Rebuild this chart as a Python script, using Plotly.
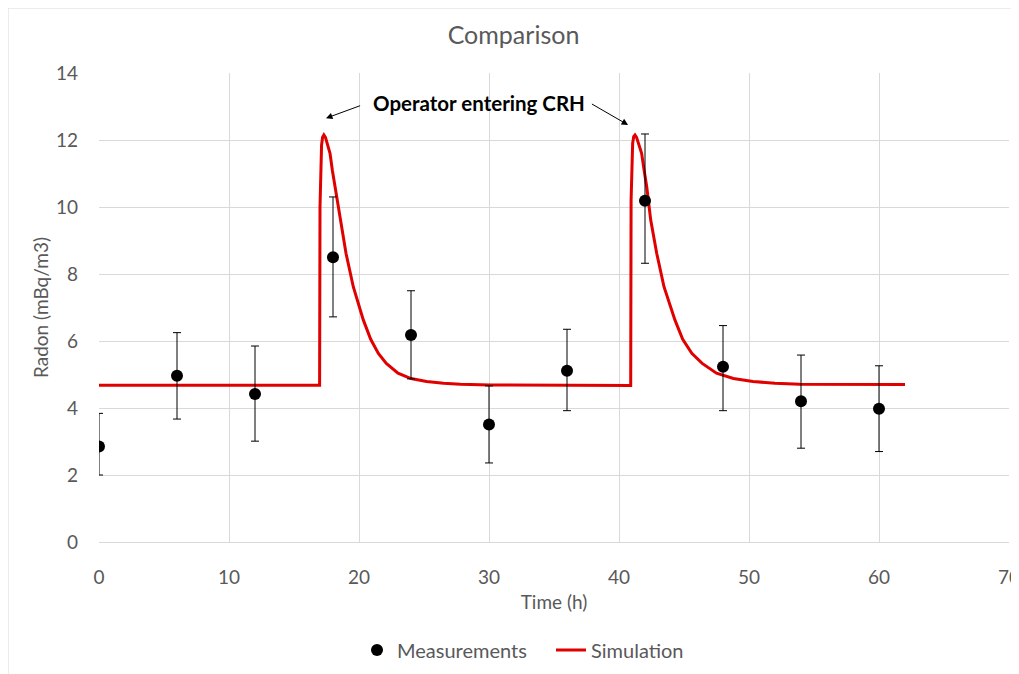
import plotly.graph_objects as go

# Measurements
meas_t = [0, 6, 12, 18, 24, 30, 36, 42, 48, 54, 60]
meas_v = [2.85, 4.96, 4.42, 8.50, 6.18, 3.51, 5.11, 10.19, 5.23, 4.20, 3.98]
err_up = [0.99, 1.29, 1.43, 1.80, 1.32, 1.15, 1.24, 1.99, 1.23, 1.38, 1.28]
err_dn = [0.85, 1.29, 1.41, 1.78, 1.31, 1.15, 1.19, 1.87, 1.31, 1.40, 1.28]

# Simulation
sim_t = [0, 16.97, 17.0, 17.05, 17.12, 17.2, 17.3, 17.42, 17.55, 17.77, 17.95, 18.15,
         18.54, 19.0, 19.56, 20.33, 20.9, 21.49, 22.1, 23.0, 24.0, 25.2, 26.5, 27.8,
         30.1, 35.0, 40.9, 40.93, 40.98, 41.05, 41.13, 41.23, 41.35, 41.5, 41.74, 41.93,
         42.13, 42.44, 42.9, 43.46, 44.3, 44.9, 45.6, 46.4, 47.5, 48.8, 50.3, 52.0,
         53.9, 62.0]
sim_v = [4.68, 4.68, 10.0, 11.3, 11.85, 12.08, 12.15, 12.08, 11.9, 11.6, 11.1, 10.61,
         9.61, 8.62, 7.62, 6.63, 6.05, 5.63, 5.33, 5.04, 4.88, 4.79, 4.74, 4.71,
         4.69, 4.68, 4.67, 10.2, 11.4, 11.9, 12.1, 12.15, 12.08, 11.9, 11.6, 11.1,
         10.61, 9.61, 8.62, 7.62, 6.63, 6.05, 5.63, 5.33, 5.04, 4.88, 4.79, 4.74,
         4.71, 4.70]

x_ticks = [0, 10, 20, 30, 40, 50, 60, 70]
y_ticks = [0, 2, 4, 6, 8, 10, 12, 14]

FONT = "Lato, Liberation Sans, Arial, sans-serif"
GRAY = "#595959"
GRID = "#d9d9d9"

fig = go.Figure()
fig.add_trace(go.Scatter(
    x=sim_t, y=sim_v, mode="lines", name="Simulation",
    line=dict(color="#e00000", width=3),
))
fig.add_trace(go.Scatter(
    x=meas_t, y=meas_v, mode="markers", name="Measurements",
    marker=dict(color="black", size=12, symbol="circle"),
    error_y=dict(type="data", symmetric=False, array=err_up, arrayminus=err_dn,
                 color="black", thickness=1, width=4),
))

# page body has an 8px margin, so figure is sized/offset to compensate
OFF = 8
W, H = 1019 - OFF, 674 - OFF
L, R, T, B = 99 - OFF, 10, 73 - OFF, 132
pw, ph = W - L - R, H - T - B

def px_x(p):
    return (p - OFF - L) / pw

def px_y(p):
    return (H - B - (p - OFF)) / ph

fig.update_layout(
    width=W, height=H,
    margin=dict(l=L, r=R, t=T, b=B, autoexpand=False),
    paper_bgcolor="white", plot_bgcolor="white",
    font=dict(family=FONT, color=GRAY, size=19),
    title=dict(text="Comparison", x=0.5, xanchor="center", y=1 - (35 - OFF) / H,
               yanchor="middle", font=dict(size=25, color=GRAY, family=FONT)),
    xaxis=dict(range=[0, 70], tickvals=x_ticks, showgrid=True, gridcolor=GRID,
               gridwidth=1, zeroline=False, showline=True, linecolor=GRID,
               ticks="", ticklabelstandoff=18, ticklabeloverflow="allow",
               tickfont=dict(size=19, color=GRAY),
               title=dict(text="Time (h)", font=dict(size=19, color=GRAY), standoff=8)),
    yaxis=dict(range=[0, 14], tickvals=y_ticks, showgrid=True, gridcolor=GRID,
               gridwidth=1, zeroline=False, showline=False,
               ticks="", ticklabelstandoff=20, tickfont=dict(size=19, color=GRAY),
               title=dict(text="Radon (mBq/m3)", font=dict(size=19, color=GRAY), standoff=2)),
    legend=dict(orientation="h", x=px_x(357), xanchor="left", y=px_y(650), yanchor="middle",
                traceorder="reversed", font=dict(size=20, color=GRAY),
                entrywidth=149, entrywidthmode="pixels"),
    showlegend=True,
)

# annotation text
fig.add_annotation(x=29.2, y=13.1, xref="x", yref="y", text="<b>Operator entering CRH</b>",
                   showarrow=False, font=dict(size=20.5, color="black", family=FONT))
# arrows
fig.add_annotation(x=17.46, y=12.65, ax=20.2, ay=13.04, xref="x", yref="y",
                   axref="x", ayref="y", text="", showarrow=True,
                   arrowhead=2, arrowsize=1.3, arrowwidth=1, arrowcolor="black")
fig.add_annotation(x=40.7, y=12.45, ax=37.8, ay=13.1, xref="x", yref="y",
                   axref="x", ayref="y", text="", showarrow=True,
                   arrowhead=2, arrowsize=1.3, arrowwidth=1, arrowcolor="black")

# chart area border
fig.add_shape(type="rect", xref="paper", yref="paper",
              x0=px_x(8), x1=px_x(1030), y0=px_y(690), y1=px_y(8),
              line=dict(color=GRID, width=1), fillcolor="rgba(0,0,0,0)", layer="below")

fig.write_html("out.html")
